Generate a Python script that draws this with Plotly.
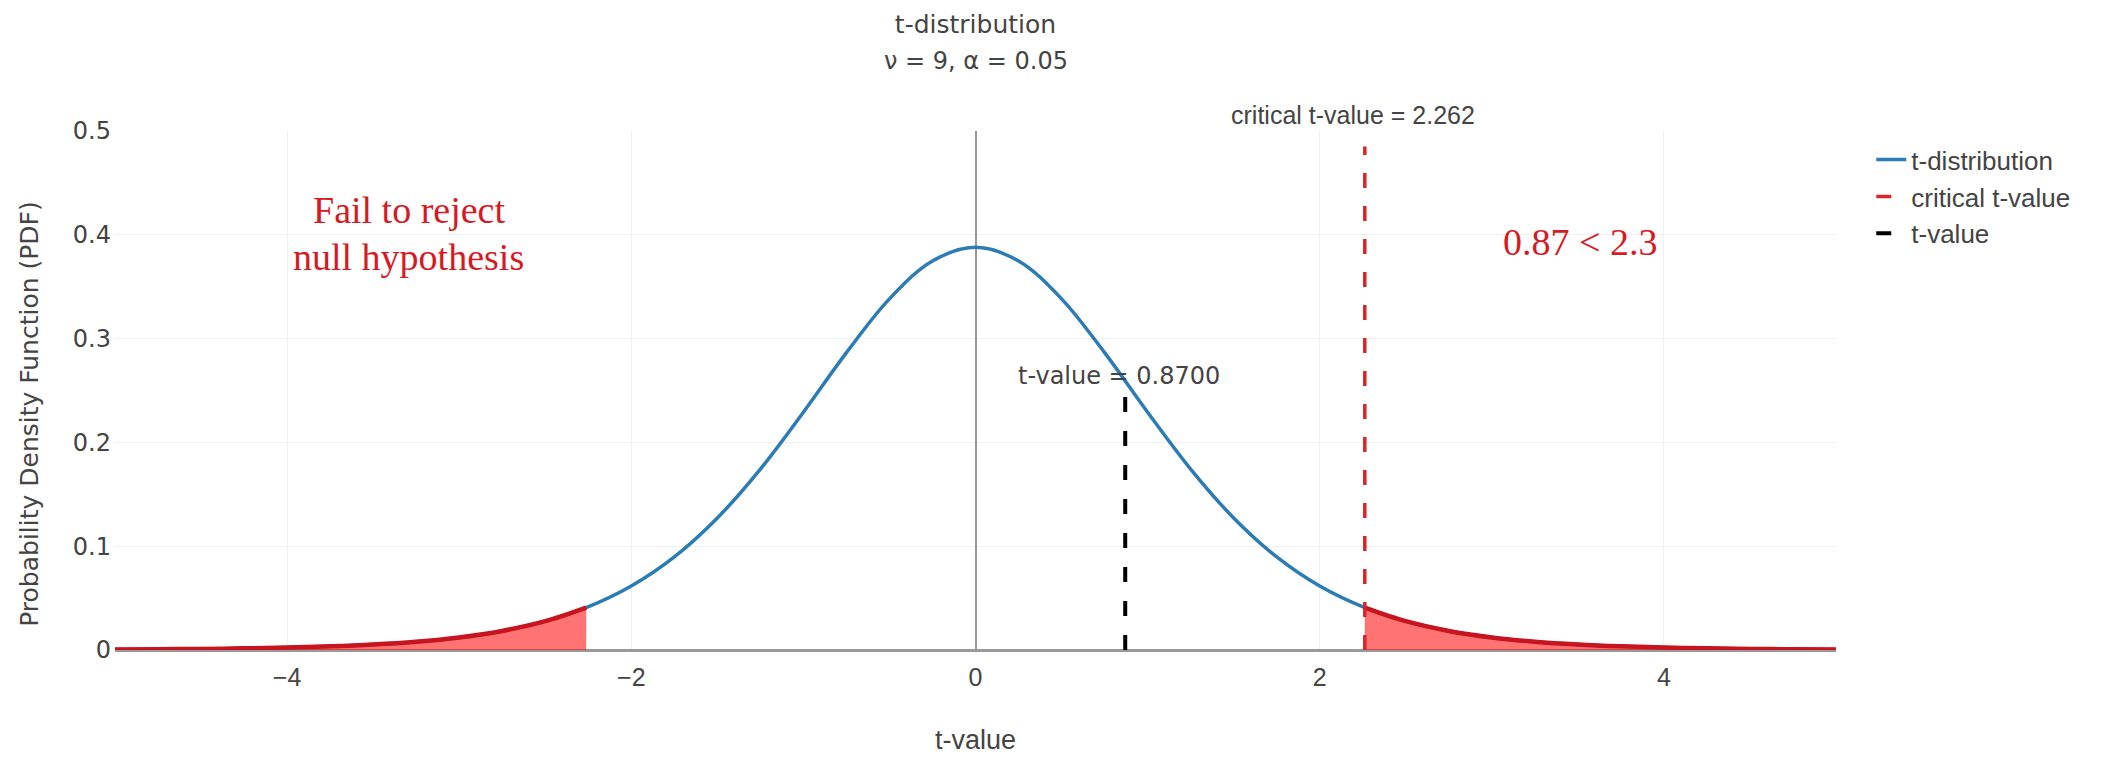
import plotly.graph_objects as go

# ---- data ----
t_values = [-5.0, -4.75, -4.5, -4.25, -4.0, -3.75, -3.5, -3.25, -3.0, -2.75, -2.5, -2.262,
            -2.0, -1.75, -1.5, -1.25, -1.0, -0.75, -0.5, -0.25, 0.0,
            0.25, 0.5, 0.75, 1.0, 1.25, 1.5, 1.75, 2.0,
            2.262, 2.5, 2.75, 3.0, 3.25, 3.5, 3.75, 4.0, 4.25, 4.5, 4.75, 5.0]
pdf_values = [0.0005, 0.00073, 0.00107, 0.00158, 0.00235, 0.00351, 0.00529, 0.008, 0.01212, 0.01838, 0.02778, 0.04087,
              0.0617, 0.0897, 0.1272, 0.1743, 0.2291, 0.2865, 0.3383, 0.3748, 0.388,
              0.3748, 0.3383, 0.2865, 0.2291, 0.1743, 0.1272, 0.0897, 0.0617,
              0.04087, 0.02778, 0.01838, 0.01212, 0.008, 0.00529, 0.00351, 0.00235, 0.00158, 0.00107, 0.00073, 0.0005]

t_critical = 2.262
critical_line_top = 0.485
t_statistic = 0.87
t_statistic_pdf = 0.259

x_ticks = [-4, -2, 0, 2, 4]
x_tick_labels = ["\u22124", "\u22122", "0", "2", "4"]
y_ticks = [0, 0.1, 0.2, 0.3, 0.4, 0.5]
y_tick_labels = ["0", "0.1", "0.2", "0.3", "0.4", "0.5"]

# ---- derived tails ----
left_x = [x for x in t_values if x <= -t_critical]
left_y = [y for x, y in zip(t_values, pdf_values) if x <= -t_critical]
right_x = [x for x in t_values if x >= t_critical]
right_y = [y for x, y in zip(t_values, pdf_values) if x >= t_critical]

SANS = "DejaVu Sans, Verdana, sans-serif"
NARROW = "Liberation Sans Narrow, Arial Narrow, Liberation Sans, Arial, sans-serif"
SERIF = "Liberation Serif, Times New Roman, serif"
RED_TXT = "rgb(215,25,35)"
GREY_TXT = "#444"

fig = go.Figure()

fig.add_trace(go.Scatter(x=t_values, y=pdf_values, mode="lines", name="t-distribution",
                         line=dict(color="#2b7bb4", width=3.5, shape="spline")))

fig.add_trace(go.Scatter(x=left_x, y=left_y, mode="lines", fill="tozeroy",
                         fillcolor="rgba(255,0,0,0.55)", showlegend=False,
                         line=dict(color="rgb(200,20,30)", width=4.5, shape="spline")))
fig.add_trace(go.Scatter(x=right_x, y=right_y, mode="lines", fill="tozeroy",
                         fillcolor="rgba(255,0,0,0.55)", showlegend=False,
                         line=dict(color="rgb(200,20,30)", width=4.5, shape="spline")))

fig.add_trace(go.Scatter(x=[t_critical, t_critical], y=[0, critical_line_top], mode="lines",
                         name="critical t-value",
                         line=dict(color="rgb(214,39,40)", width=3.5, dash="15px,18px")))
fig.add_trace(go.Scatter(x=[t_statistic, t_statistic], y=[0, t_statistic_pdf], mode="lines",
                         name="t-value",
                         line=dict(color="black", width=4, dash="15px,19px")))

fig.add_annotation(x=t_critical, y=0.5, yanchor="bottom", xshift=-12, yshift=0,
                   text="critical t-value = %.3f" % t_critical, showarrow=False,
                   font=dict(family=NARROW, size=25, color=GREY_TXT))
fig.add_annotation(x=t_statistic, y=t_statistic_pdf, yanchor="bottom", xshift=-6, yshift=-11,
                   text="t-value = %.4f" % t_statistic, showarrow=False,
                   font=dict(family=SANS, size=24, color=GREY_TXT))
fig.add_annotation(x=-3.294, y=0.4235, text="Fail to reject", showarrow=False,
                   font=dict(family=SERIF, size=38, color=RED_TXT))
fig.add_annotation(x=-3.294, y=0.3786, text="null hypothesis", showarrow=False,
                   font=dict(family=SERIF, size=38, color=RED_TXT))
fig.add_annotation(x=3.514, y=0.393, text="0.87 < 2.3", showarrow=False,
                   font=dict(family=SERIF, size=38, color=RED_TXT))
# second title line
fig.add_annotation(xref="paper", yref="paper", x=0.5, y=1.135, yanchor="middle",
                   text="\u03bd = 9, \u03b1 = 0.05", showarrow=False,
                   font=dict(family=SANS, size=24, color=GREY_TXT))
# y-axis title (placed below plot centre as in the reference)
fig.add_annotation(xref="paper", yref="paper", x=-0.0494, y=0.455, textangle=-90,
                   xanchor="center", yanchor="middle",
                   text="Probability Density Function (PDF)", showarrow=False,
                   font=dict(family=SANS, size=25, color=GREY_TXT))

fig.update_layout(
    width=2122, height=757,
    template="plotly_white",
    paper_bgcolor="white", plot_bgcolor="white",
    margin=dict(l=107, r=294, t=123, b=115),
    title=dict(text="t-distribution", x=0.5, xref="paper",
               y=1 - 16.0 / 757, yref="container", yanchor="middle", xanchor="center",
               font=dict(family=SANS, size=25, color=GREY_TXT)),
    font=dict(family=SANS, color=GREY_TXT),
    legend=dict(x=1.0205, y=0.99, xanchor="left", yanchor="top",
                font=dict(family=NARROW, size=26, color=GREY_TXT), tracegroupgap=0),
    showlegend=True,
)

fig.update_xaxes(range=[-5, 5], tickvals=x_ticks, ticktext=x_tick_labels,
                 showgrid=True, gridcolor="#f0f0f0", gridwidth=1,
                 zeroline=True, zerolinecolor="#999", zerolinewidth=2,
                 showline=False, ticks="", automargin=False, ticklabelstandoff=10,
                 tickfont=dict(family=NARROW, size=25, color=GREY_TXT),
                 title=dict(text="t-value", font=dict(family=NARROW, size=27, color=GREY_TXT), standoff=40))
fig.update_yaxes(range=[0, 0.5], tickvals=y_ticks, ticktext=y_tick_labels,
                 showgrid=True, gridcolor="#f0f0f0", gridwidth=1,
                 zeroline=True, zerolinecolor="#999", zerolinewidth=3,
                 showline=False, ticks="", automargin=False, ticklabelstandoff=3,
                 tickfont=dict(family=SANS, size=24, color=GREY_TXT))

fig.write_html("out.html")
